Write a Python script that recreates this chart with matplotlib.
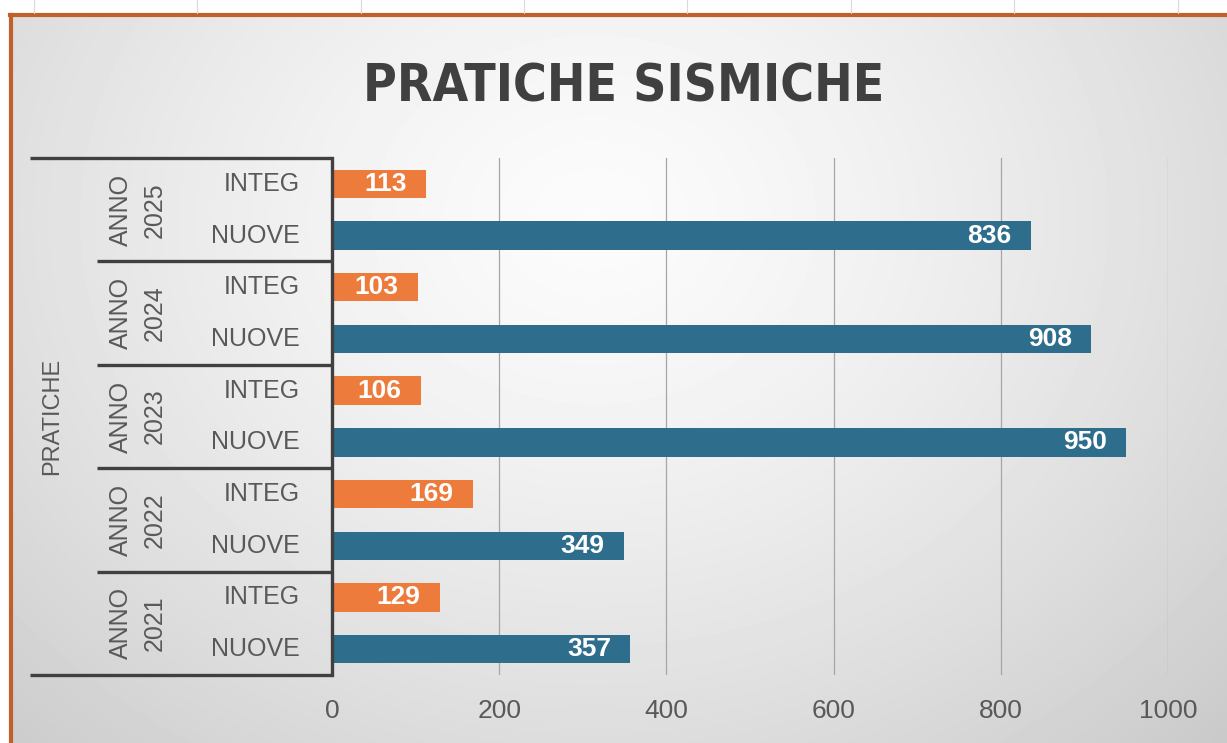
import numpy as np
import matplotlib.pyplot as plt
from matplotlib.transforms import blended_transform_factory

# dati
anni = [2025, 2024, 2023, 2022, 2021]
sottocategorie = ['INTEG', 'NUOVE']
integ = [113, 103, 106, 169, 129]
nuove = [836, 908, 950, 349, 357]

col_integ = '#EC7B3C'
col_nuove = '#2E6D8C'
grigio_testo = '#595959'
grigio_linee = '#404040'

W, H = 1227, 743
fig = plt.figure(figsize=(W / 100, H / 100), dpi=100)
fig.patch.set_facecolor('white')

# sfondo con gradiente radiale (area grafico di Excel)
bg = fig.add_axes([10 / W, 0, 1 - 10 / W, 1 - 15 / H])
bg.set_axis_off()
gx, gy = np.meshgrid(np.linspace(0, 1, 300), np.linspace(0, 1, 200))
r = np.sqrt(((gx - 0.48) / 0.72) ** 2 + ((gy - 0.28) / 1.0) ** 2)
shade = 0.985 - 0.19 * np.clip(r, 0, 1.2) ** 1.4
bg.imshow(shade, cmap='gray', vmin=0, vmax=1, aspect='auto',
          extent=[0, 1, 1, 0], interpolation='bilinear')
bg.set_xlim(0, 1)
bg.set_ylim(1, 0)

# bordo arancione della cornice
fig.add_artist(plt.Line2D([10 / W, 1], [1 - 15 / H, 1 - 15 / H],
                          transform=fig.transFigure, color='#C0602A', lw=3))
fig.add_artist(plt.Line2D([11 / W, 11 / W], [0, 1 - 15 / H],
                          transform=fig.transFigure, color='#C0602A', lw=3))
# righe delle celle del foglio sopra la cornice
for px in [34, 197, 361, 524, 687, 851, 1014, 1178]:
    fig.add_artist(plt.Line2D([px / W, px / W], [1 - 13 / H, 1], transform=fig.transFigure,
                              color='#D9D9D9', lw=0.8))

ax = fig.add_axes([332 / W, 1 - 675 / H, (1168 - 332) / W, (675 - 158) / H])
ax.set_facecolor('none')

# posizioni categorie dall'alto verso il basso
etichette = []
valori = []
colori = []
for i, anno in enumerate(anni):
    etichette += sottocategorie
    valori += [integ[i], nuove[i]]
    colori += [col_integ, col_nuove]
y = np.arange(len(valori))

bars = ax.barh(y, valori, height=0.55, color=colori, zorder=3)
for b, v in zip(bars, valori):
    ax.annotate(str(v), xy=(b.get_width(), b.get_y() + b.get_height() / 2),
                xytext=(-14, 0), textcoords='offset points', ha='right', va='center',
                color='white', fontsize=19, fontweight='bold',
                family=['Liberation Sans', 'DejaVu Sans'], zorder=4)

ax.set_xlim(0, 1000)
ax.set_ylim(len(valori) - 0.5, -0.5)
ax.set_xticks([0, 200, 400, 600, 800, 1000])
ax.set_yticks([])
ax.grid(axis='x', color='#A6A6A6', lw=0.9, zorder=0)
ax.tick_params(axis='x', length=0, pad=17, labelsize=19, labelcolor=grigio_testo)
for t in ax.get_xticklabels():
    t.set_family(['Liberation Sans', 'DejaVu Sans'])
for s in ['top', 'right', 'bottom']:
    ax.spines[s].set_visible(False)
ax.spines['left'].set_color(grigio_linee)
ax.spines['left'].set_linewidth(2.4)
ax.spines['left'].set_zorder(5)

# asse delle categorie gerarchico
tr = blended_transform_factory(fig.transFigure, ax.transData)
x_dx = 331 / W
for k in range(len(anni) + 1):
    yb = 2 * k - 0.5
    x_sx = 30 / W if k in (0, len(anni)) else 97 / W
    ax.add_line(plt.Line2D([x_sx, x_dx], [yb, yb], transform=tr, color=grigio_linee,
                           lw=2.4, clip_on=False, solid_capstyle='butt'))

fam = ['Liberation Sans', 'DejaVu Sans']
for yi, lab in zip(y, etichette):
    ax.text(300 / W, yi, lab, transform=tr, ha='right', va='center',
            fontsize=18, color=grigio_testo, family=fam)
for i, anno in enumerate(anni):
    ax.text(138 / W, 2 * i + 0.5, f'ANNO\n{anno}', transform=tr, ha='center', va='center',
            rotation=90, fontsize=18, color=grigio_testo, family=fam,
            linespacing=1.55, multialignment='center')
ax.text(52 / W, (len(valori) - 1) / 2, 'PRATICHE', transform=tr, ha='center', va='center',
        rotation=90, fontsize=17, color=grigio_testo, family=fam)

fig.text(624 / W, 1 - 87 / H, 'PRATICHE SISMICHE', ha='center', va='center',
         fontsize=37, fontweight='bold', fontstretch='condensed', color='#404040',
         family=['DejaVu Sans', 'Liberation Sans'])

fig.savefig('out.png', dpi=100)
